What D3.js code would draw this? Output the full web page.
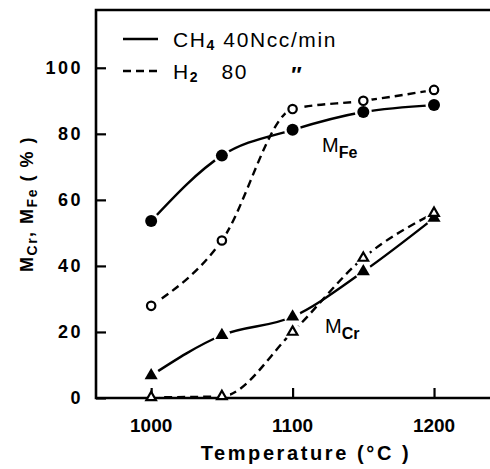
<!DOCTYPE html>
<html>
<head>
<meta charset="utf-8">
<script src="https://cdn.jsdelivr.net/npm/d3@7"></script>
<style>
body { margin: 0; background: #fff; }
text { font-family: "Liberation Sans", Arial, sans-serif; fill: #000; }
</style>
</head>
<body>
<svg id="chart" width="490" height="469"></svg>
<script>
// ***************** DATA ********************
var temps = [1000, 1050, 1100, 1150, 1200];
var feCH4 = [53.6, 73.4, 81.2, 86.6, 88.7];
var feH2 = [27.9, 47.7, 87.5, 90.0, 93.3];
var crCH4 = [6.8, 19.0, 24.6, 38.3, 54.5];
var crH2 = [0.2, 0.5, 20.0, 42.4, 56.0];
var xTicks = [1000, 1100, 1200];
var yTicks = [0, 20, 40, 60, 80, 100];
var legendGas = [["CH", "4", " 40Ncc/min"], ["H", "2", "   80"]];

var svg = d3.select("#chart");
var margin = {left: 96, top: 10, bottom: 398, right: 490.6};

var x = d3.scaleLinear().domain([961, 1240]).range([margin.left, margin.right]);
var y = d3.scaleLinear().domain([0, 117.5]).range([margin.bottom, margin.top]);

var series = [
	{values: feCH4, dash: null, marker: "circle", filled: true},
	{values: feH2, dash: "8,5", marker: "circle", filled: false},
	{values: crCH4, dash: null, marker: "triangle", filled: true},
	{values: crH2, dash: "8,5", marker: "triangle", filled: false}
];

var line = d3.line()
	.x(function(d) { return x(d[0]) })
	.y(function(d) { return y(d[1]) })
	.curve(d3.curveMonotoneX);

// ************************ LINES *************************
series.forEach(function(s) {
	var pts = temps.map(function(t, i) { return [t, s.values[i]] });
	svg.append("path")
		.attr("d", line(pts))
		.attr("fill", "none")
		.attr("stroke", "#000")
		.attr("stroke-width", 2.4)
		.attr("stroke-dasharray", s.dash);
});

// white gaps round the markers, like the hand drawn curves
series.forEach(function(s) {
	svg.selectAll(null)
		.data(temps.map(function(t, i) { return [t, s.values[i]] }))
		.enter()
		.append("circle")
		.attr("cx", function(d) { return x(d[0]) })
		.attr("cy", function(d) { return y(d[1]) })
		.attr("r", 8.5)
		.attr("fill", "#fff");
});

// ************************ AXES *************************
var yAxis = d3.axisRight(y).tickValues(yTicks).tickSize(10).tickFormat("");
svg.append("g")
	.attr("transform", "translate(" + margin.left + ",0)")
	.call(yAxis)
	.call(function(g) {
		g.select(".domain").remove();
		g.selectAll("line").attr("stroke", "#000").attr("stroke-width", 2.2);
	});

var xAxis = d3.axisTop(x).tickValues(xTicks).tickSize(10).tickFormat("");
svg.append("g")
	.attr("transform", "translate(0," + margin.bottom + ")")
	.call(xAxis)
	.call(function(g) {
		g.select(".domain").remove();
		g.selectAll("line").attr("stroke", "#000").attr("stroke-width", 2.2);
	});

svg.append("path")
	.attr("d", "M" + margin.right + "," + margin.top + "H" + margin.left + "V" + margin.bottom + "H" + margin.right)
	.attr("fill", "none")
	.attr("stroke", "#000")
	.attr("stroke-width", 2.6);

// tick labels
svg.selectAll(".ylab")
	.data(yTicks)
	.enter()
	.append("text")
	.attr("x", 83)
	.attr("y", function(d) { return y(d) })
	.attr("dy", ".36em")
	.attr("text-anchor", "end")
	.style("font-size", "18px")
	.style("font-weight", "bold")
	.style("letter-spacing", "2.5px")
	.text(function(d) { return d });

svg.selectAll(".xlab")
	.data(xTicks)
	.enter()
	.append("text")
	.attr("x", function(d) { return x(d) })
	.attr("y", 432)
	.attr("text-anchor", "middle")
	.style("font-size", "19px")
	.style("font-weight", "bold")
	.text(function(d) { return d });

svg.append("text")
	.attr("x", 306)
	.attr("y", 460)
	.attr("text-anchor", "middle")
	.style("font-size", "20px")
	.style("font-weight", "bold")
	.style("letter-spacing", "2.6px")
	.text("Temperature (\u00B0C )");

var ylab = svg.append("text")
	.attr("transform", "translate(33,204) rotate(-90)")
	.attr("text-anchor", "middle")
	.style("font-size", "18px")
	.style("font-weight", "bold")
	.style("letter-spacing", "1.5px");
ylab.append("tspan").text("M");
ylab.append("tspan").attr("dy", 4).style("font-size", "14px").text("Cr");
ylab.append("tspan").attr("dy", -4).text(", M");
ylab.append("tspan").attr("dy", 4).style("font-size", "14px").text("Fe");
ylab.append("tspan").attr("dy", -4).text("  ( % )");

// ************************ MARKERS *************************
var tri = d3.symbol().type(d3.symbolTriangle);
series.forEach(function(s) {
	var pts = temps.map(function(t, i) { return [t, s.values[i]] });
	var g = svg.append("g");
	if (s.marker === "circle") {
		g.selectAll("circle")
			.data(pts)
			.enter()
			.append("circle")
			.attr("cx", function(d) { return x(d[0]) })
			.attr("cy", function(d) { return y(d[1]) })
			.attr("r", s.filled ? 6 : 4.2)
			.attr("fill", s.filled ? "#000" : "#fff")
			.attr("stroke", "#000")
			.attr("stroke-width", s.filled ? 0 : 2.2);
	} else {
		g.selectAll("path")
			.data(pts)
			.enter()
			.append("path")
			.attr("d", tri.size(s.filled ? 75 : 40))
			.attr("transform", function(d) { return "translate(" + x(d[0]) + "," + y(d[1]) + ")" })
			.attr("fill", s.filled ? "#000" : "#fff")
			.attr("stroke", "#000")
			.attr("stroke-width", s.filled ? 0 : 2.2);
	}
});

// ************************ CURVE LABELS *************************
var feLab = svg.append("text").attr("x", 322).attr("y", 152).style("font-size", "20px");
feLab.append("tspan").text("M");
feLab.append("tspan").attr("dy", 6).style("font-size", "16px").style("font-weight", "bold").text("Fe");

var crLab = svg.append("text").attr("x", 325).attr("y", 333).style("font-size", "20px");
crLab.append("tspan").text("M");
crLab.append("tspan").attr("dy", 6).style("font-size", "16px").style("font-weight", "bold").text("Cr");

// ************************ LEGEND *************************
var legendY = [39, 71];
legendGas.forEach(function(lab, i) {
	svg.append("line")
		.attr("x1", 123).attr("x2", 158)
		.attr("y1", legendY[i]).attr("y2", legendY[i])
		.attr("stroke", "#000")
		.attr("stroke-width", 2.4)
		.attr("stroke-dasharray", i === 0 ? null : "8,5");
	var t = svg.append("text")
		.attr("x", 173)
		.attr("y", legendY[i] + 8)
		.attr("xml:space", "preserve")
		.style("font-size", "21px")
		.style("letter-spacing", "1.6px");
	t.append("tspan").text(lab[0]);
	t.append("tspan").attr("dy", 3).style("font-size", "14px").style("font-weight", "bold").text(lab[1]);
	t.append("tspan").attr("dy", -3).text(lab[2]);
});
svg.append("text")
	.attr("x", 290)
	.attr("y", 82)
	.style("font-size", "22px")
	.style("font-style", "italic")
	.style("font-weight", "bold")
	.text("\u2033");
</script>
</body>
</html>
